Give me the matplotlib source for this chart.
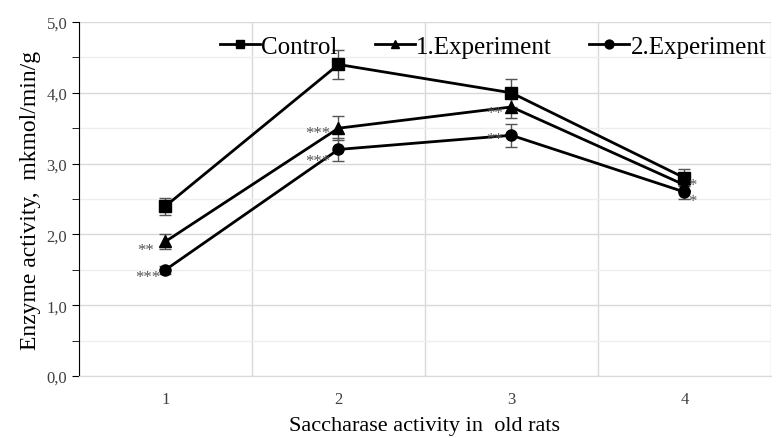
import matplotlib.pyplot as plt
from matplotlib.ticker import MultipleLocator, FuncFormatter

plt.rcParams['font.family'] = ['Liberation Serif', 'DejaVu Serif']

groups = [1, 2, 3, 4]
control = [2.4, 4.4, 4.0, 2.8]
control_err = [0.12, 0.21, 0.2, 0.12]
exp1 = [1.9, 3.5, 3.8, 2.7]
exp1_err = [0.1, 0.17, 0.15, 0.1]
exp2 = [1.5, 3.2, 3.4, 2.6]
exp2_err = [0.06, 0.16, 0.16, 0.1]

# significance marks: (group, value, text, x offset, y offset) in points
marks = [
    (1, 1.9, "**", -8, -5), (1, 1.5, "***", -4, -4),
    (2, 3.5, "***", -6, -2), (2, 3.2, "***", -6, -7),
    (3, 3.8, "**", -6, -3), (3, 3.4, "**", -6, -1),
    (4, 2.7, "*", 3, 1), (4, 2.6, "*", 3, -5),
]

fig = plt.figure(figsize=(7.77, 4.39), dpi=100)
ax = fig.add_axes([0.1017, 0.1412, 0.8903, 0.8064])

series = [
    ("Control", control, control_err, "s"),
    ("1.Experiment", exp1, exp1_err, "^"),
    ("2.Experiment", exp2, exp2_err, "o"),
]
for name, vals, errs, m in series:
    ax.errorbar(groups, vals, yerr=errs, fmt="none", ecolor="#555555",
                elinewidth=1, capsize=4, capthick=1, zorder=2)
    ax.plot(groups, vals, color="black", lw=2, marker=m, ms=8, label=name, zorder=3)

for g, v, t, dx, dy in marks:
    ax.annotate(t, (g, v), xytext=(dx, dy), textcoords="offset points",
                ha="right" if dx < 0 else "left", va="center_baseline",
                fontsize=12, color="#555555")

ax.set_xlim(0.5, 4.5)
ax.set_ylim(0, 5)
ax.set_xticks(groups)
ax.set_xticks([0.5, 1.5, 2.5, 3.5, 4.5], minor=True)
ax.yaxis.set_major_locator(MultipleLocator(1))
ax.yaxis.set_minor_locator(MultipleLocator(0.5))
ax.yaxis.set_major_formatter(FuncFormatter(lambda v, p: f"{v:.1f}".replace(".", ",")))

ax.grid(which="major", axis="y", color="#d9d9d9", lw=1)
ax.grid(which="minor", axis="y", color="#eeeeee", lw=1)
ax.grid(which="minor", axis="x", color="#d9d9d9", lw=1)
ax.set_axisbelow(True)

for s in ["top", "right"]:
    ax.spines[s].set_visible(False)
ax.spines["bottom"].set_color("#d9d9d9")
ax.spines["left"].set_color("black")
ax.tick_params(axis="x", which="both", length=0, labelsize=12, pad=11, colors="#404040")
ax.tick_params(axis="y", which="both", length=5, labelsize=12, labelcolor="#404040")

ax.set_xlabel("Saccharase activity in  old rats", fontsize=16, labelpad=6)
ax.set_ylabel("Enzyme activity,  mkmol/min/g", fontsize=17, labelpad=4)

ax.legend(loc="upper right", ncol=3, frameon=False, fontsize=18,
          bbox_to_anchor=(1.015, 1.005), handlelength=1.6, handletextpad=0.05,
          columnspacing=1.5, markerscale=0.8, borderaxespad=0.2)

fig.savefig("out.png", dpi=100)
